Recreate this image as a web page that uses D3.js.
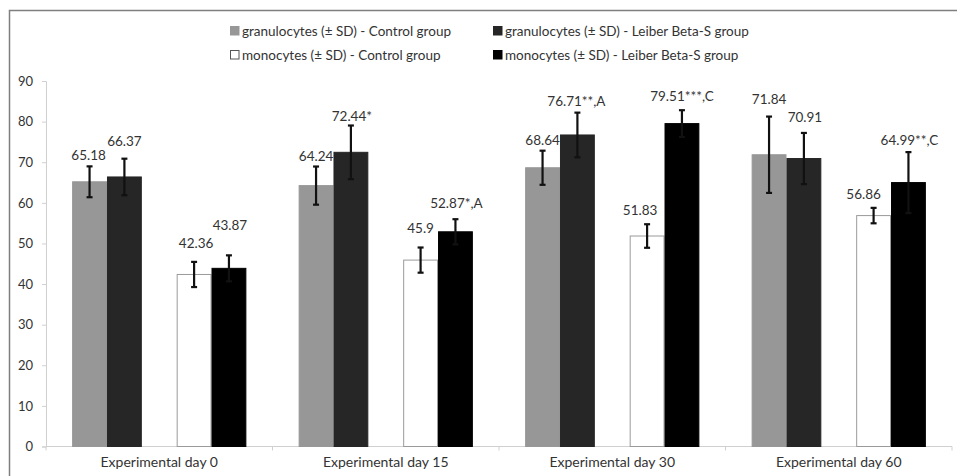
<!DOCTYPE html>
<html>
<head>
<meta charset="utf-8">
<script src="https://cdn.jsdelivr.net/npm/d3@7"></script>
<style>
  html, body { margin: 0; padding: 0; background: #fff; }
  svg { display: block; font-family: Lato, "Open Sans", sans-serif; }
</style>
</head>
<body>
<svg id="chart" width="957" height="476"></svg>
<script>
// Experimental days (categories)
const days = ["Experimental day 0", "Experimental day 15", "Experimental day 30", "Experimental day 60"];

// Mean values per series
const granControl = [65.18, 64.24, 68.64, 71.84];
const granLeiber  = [66.37, 72.44, 76.71, 70.91];
const monoControl = [42.36, 45.9, 51.83, 56.86];
const monoLeiber  = [43.87, 52.87, 79.51, 64.99];

// Standard deviations per series
const granControlSD = [3.8, 4.7, 4.2, 9.4];
const granLeiberSD  = [4.5, 6.6, 5.5, 6.3];
const monoControlSD = [3.1, 3.1, 2.9, 1.9];
const monoLeiberSD  = [3.2, 3.1, 3.3, 7.5];

// Significance marks appended to the value labels
const granControlMark = ["", "", "", ""];
const granLeiberMark  = ["", "*", "**,A", ""];
const monoControlMark = ["", "", "", ""];
const monoLeiberMark  = ["", "*,A", "***,C", "**,C"];

// Series names for the legend
const seriesNames = [
  "granulocytes (\u00b1 SD) - Control group",
  "granulocytes (\u00b1 SD) - Leiber Beta-S group",
  "monocytes (\u00b1 SD) - Control group",
  "monocytes (\u00b1 SD) - Leiber Beta-S group"
];

// Y axis ticks
const yTicks = [0, 10, 20, 30, 40, 50, 60, 70, 80, 90];

// ---- styling / layout ----
const series = [
  { key: "gc", name: seriesNames[0], values: granControl, sd: granControlSD, mark: granControlMark, fill: "#979797", stroke: "#979797" },
  { key: "gl", name: seriesNames[1], values: granLeiber,  sd: granLeiberSD,  mark: granLeiberMark,  fill: "#262626", stroke: "#262626" },
  { key: "mc", name: seriesNames[2], values: monoControl, sd: monoControlSD, mark: monoControlMark, fill: "#ffffff", stroke: "#9a9a9a" },
  { key: "ml", name: seriesNames[3], values: monoLeiber,  sd: monoLeiberSD,  mark: monoLeiberMark,  fill: "#000000", stroke: "#000000" }
];

// hand-placed label nudges [dx, dy] relative to bar centre / bar top, per series & day
const labelNudge = {
  gc: [[-1, -26.5], [0, -29.5], [0, -27.5], [0, -55]],
  gl: [[0, -35.5], [1, -36.5], [-1, -34], [1, -41.5]],
  mc: [[2, -31], [0, -32], [-7, -26], [-10, -21]],
  ml: [[1, -43.5], [1, -28.5], [0, -27], [1, -42.5]]
};

const svg = d3.select("#chart");
const W = 957, H = 476;

svg.append("rect").attr("width", W).attr("height", H).attr("fill", "#fff");

// outer chart frame (only left and top edges fall inside the view)
svg.append("path")
  .attr("d", `M9.5,${H} V10.5 H${W}`)
  .attr("fill", "none").attr("stroke", "#7f7f7f").attr("stroke-width", 1.5);

const plot = { left: 46, right: 952, top: 81, bottom: 446.5 };

const x = d3.scaleBand().domain(days).range([plot.left, plot.right]).paddingInner(0).paddingOuter(0);
// five slots per day: two granulocyte bars, an empty slot, two monocyte bars
const slots = ["gc", "gl", "gap", "mc", "ml"];
const xi = d3.scaleBand().domain(slots).range([0, x.bandwidth()]).paddingInner(0).paddingOuter(0.75);
const y = d3.scaleLinear().domain([0, 90]).range([plot.bottom, plot.top]);

const axisColor = "#d0d0d0";
const textColor = "#333333";

// Y axis
const yAxis = svg.append("g").attr("transform", `translate(${plot.left},0)`)
  .call(d3.axisLeft(y).tickValues(yTicks).tickSize(4).tickPadding(9).tickFormat(d3.format("d")));
yAxis.select(".domain").attr("stroke", axisColor);
yAxis.selectAll(".tick line").attr("stroke", axisColor);
yAxis.selectAll(".tick text").attr("fill", textColor).style("font-size", "13px").style("font-family", "Lato, sans-serif");

// X axis
const xAxisG = svg.append("g").attr("transform", `translate(0,${plot.bottom})`);
xAxisG.append("line").attr("x1", plot.left).attr("x2", plot.right).attr("stroke", axisColor).attr("stroke-width", 1.2);
const bounds = [plot.left].concat(days.map(d => x(d) + x.bandwidth()));
xAxisG.selectAll("line.tk").data(bounds).join("line").attr("class", "tk")
  .attr("x1", d => d).attr("x2", d => d).attr("y1", 0).attr("y2", 4).attr("stroke", axisColor);
xAxisG.selectAll("text").data(days).join("text")
  .attr("x", d => x(d) + x.bandwidth() / 2).attr("y", 20.5)
  .attr("text-anchor", "middle").attr("fill", textColor)
  .style("font-size", "14px").text(d => d);

// bars, error bars, labels
const flat = [];
series.forEach(s => days.forEach((d, i) => flat.push({ s, d, i, v: s.values[i], sd: s.sd[i], mark: s.mark[i] })));

const bw = xi.bandwidth();
svg.append("g").selectAll("rect").data(flat).join("rect")
  .attr("x", p => x(p.d) + xi(p.s.key) + 0.5)
  .attr("y", p => y(p.v))
  .attr("width", bw - 1)
  .attr("height", p => y(0) - y(p.v))
  .attr("fill", p => p.s.fill)
  .attr("stroke", p => p.s.stroke).attr("stroke-width", 1);

const eb = svg.append("g").attr("stroke", "#111").attr("stroke-width", 2.2);
flat.forEach(p => {
  const cx = x(p.d) + xi(p.s.key) + bw / 2;
  const y1 = y(p.v + p.sd), y2 = y(p.v - p.sd);
  eb.append("line").attr("x1", cx).attr("x2", cx).attr("y1", y1).attr("y2", y2);
  eb.append("line").attr("x1", cx - 3).attr("x2", cx + 3).attr("y1", y1).attr("y2", y1);
  eb.append("line").attr("x1", cx - 3).attr("x2", cx + 3).attr("y1", y2).attr("y2", y2);
});

svg.append("g").selectAll("text").data(flat).join("text")
  .attr("x", p => x(p.d) + xi(p.s.key) + bw / 2 + labelNudge[p.s.key][p.i][0])
  .attr("y", p => y(p.v) + labelNudge[p.s.key][p.i][1])
  .attr("dy", "0.35em")
  .attr("text-anchor", "middle").attr("fill", textColor)
  .style("font-size", "13.5px")
  .text(p => String(p.v) + p.mark);

// legend (2 x 2)
const legendPos = [[230, 31], [493, 31], [230, 55], [493, 55]];
const lg = svg.append("g");
series.forEach((s, k) => {
  const [lx, ly] = legendPos[k];
  lg.append("rect").attr("x", lx + 0.5).attr("y", ly - 4.5).attr("width", 8.5).attr("height", 8.5)
    .attr("fill", s.fill).attr("stroke", s.key === "mc" ? "#555" : s.stroke).attr("stroke-width", 1);
  lg.append("text").attr("x", lx + 12).attr("y", ly).attr("dy", "0.35em")
    .attr("fill", textColor).style("font-size", "13.5px").text(s.name);
});
</script>
</body>
</html>
